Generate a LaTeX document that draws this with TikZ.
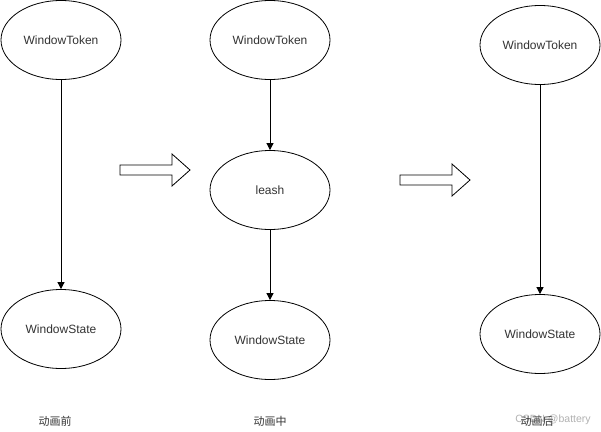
\documentclass[tikz,border=0pt]{standalone}
\usepackage{fontspec}
\setmainfont{Liberation Sans}
\newfontfamily\cjk{Noto Sans CJK SC}
\usetikzlibrary{shapes.geometric,arrows.meta}
\definecolor{txt}{HTML}{333333}
\begin{document}
\begin{tikzpicture}[x=1pt,y=-1pt,
  ell/.style={draw,ellipse,minimum width=120pt,minimum height=79pt,inner sep=0pt,
    text=txt,font=\fontsize{12}{14}\selectfont,line width=0.8pt},
  conn/.style={line width=0.8pt,-{Triangle[length=7pt,width=7pt]}},
  blk/.style={draw,line width=0.8pt,fill=white,line join=miter},
  lbl/.style={font=\cjk\fontsize{11}{13}\selectfont,text=txt,inner sep=0pt},
  wm/.style={font=\fontsize{10.5}{12}\selectfont,text=black!30,inner sep=0pt}]
\useasboundingbox[fill=white] (0,0) rectangle (601,431);
% column 1
\node[ell] (t1) at (61,40) {WindowToken};
\node[ell] (s1) at (61,329) {WindowState};
\draw[conn] (t1) -- (s1);
% column 2
\node[ell] (t2) at (270,40) {WindowToken};
\node[ell] (l2) at (270,190) {leash};
\node[ell] (s2) at (270,340) {WindowState};
\draw[conn] (t2) -- (l2);
\draw[conn] (l2) -- (s2);
% column 3
\node[ell] (t3) at (540,45) {WindowToken};
\node[ell] (s3) at (540,334) {WindowState};
\draw[conn] (t3) -- (s3);
% block arrows
\draw[blk] (120,165) -- (172,165) -- (172,154) -- (190,170) -- (172,186) -- (172,175) -- (120,175) -- cycle;
\draw[blk] (400,175) -- (452,175) -- (452,164) -- (470,180) -- (452,196) -- (452,185) -- (400,185) -- cycle;
% labels
\node[lbl] (a) at (55,421) {动画前};
\node[lbl] (b) at (270,421) {动画中};
\node[wm] (w) at (553,420) {CSDN @battery};
\node[lbl] (c) at (537,421) {动画后};
\end{tikzpicture}
\end{document}
